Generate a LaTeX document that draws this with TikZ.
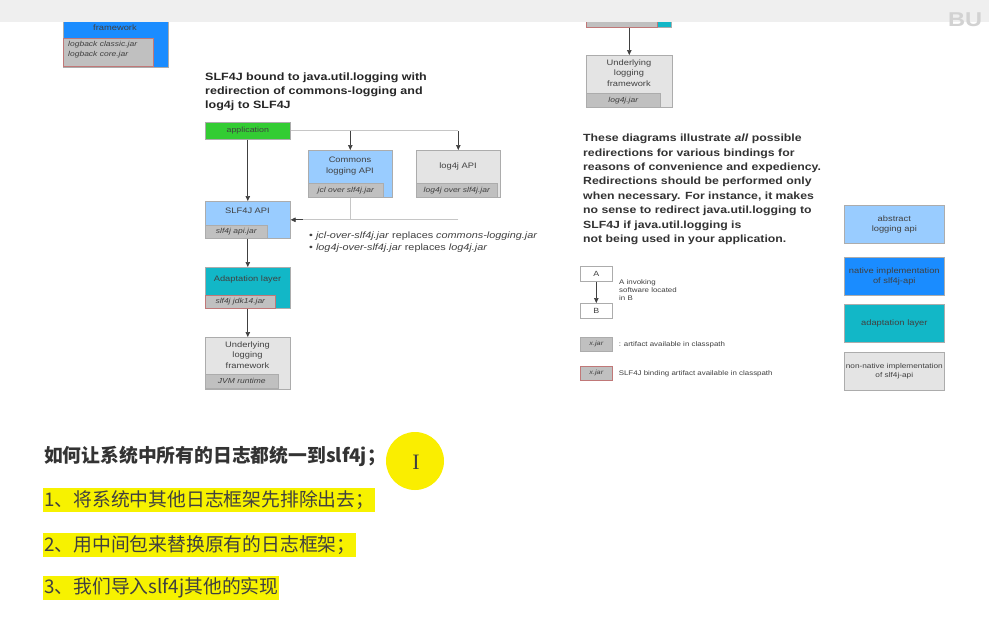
\documentclass[tikz,border=0pt]{standalone}
\usepackage{fontspec}
\setmainfont[FakeStretch=1.18]{Liberation Sans}
\newfontfamily\cjk{Noto Sans CJK SC}
\newfontfamily\serifI{Liberation Serif}
\usetikzlibrary{arrows.meta,calc}
\definecolor{appgreen}{HTML}{33CC33}
\definecolor{apiblue}{HTML}{99CCFF}
\definecolor{nativeblue}{HTML}{1A8CFF}
\definecolor{adaptteal}{HTML}{12B7C7}
\definecolor{boxgray}{HTML}{E4E4E4}
\definecolor{jargray}{HTML}{C0C0C0}
\definecolor{pinkb}{HTML}{C07878}
\definecolor{txtgray}{HTML}{404040}
\definecolor{hlyellow}{HTML}{F7F200}
\definecolor{circyellow}{HTML}{FAEE00}
\definecolor{topbar}{HTML}{EFEFEF}
\tikzset{
  box/.style={draw=gray!65, line width=0.6pt, inner sep=0pt, anchor=north west},
  jar/.style={draw=gray!65, line width=0.6pt, fill=jargray, inner sep=0pt, anchor=north west,
    font=\fontsize{7.2}{8}\selectfont\itshape, text=txtgray},
  bindjar/.style={jar, draw=pinkb},
  lbl/.style={font=\fontsize{7.9}{10.5}\selectfont, text=txtgray, align=center, inner sep=0pt},
  small/.style={font=\fontsize{6.7}{8}\selectfont, text=txtgray, align=left, inner sep=0pt, anchor=west},
  arr/.style={-{Triangle[length=5pt,width=4.5pt]}, line width=0.7pt, draw=txtgray},
  thinline/.style={draw=gray!45, line width=0.7pt},
  hl/.style={fill=hlyellow, inner xsep=1pt, inner ysep=0pt, minimum height=24pt, anchor=west,
    font=\cjk\fontsize{18.8}{20}\selectfont, text=txtgray},
}
\begin{document}
\begin{tikzpicture}[x=1pt,y=-1pt]
\useasboundingbox (0,0) rectangle (989,633);
\fill[white] (0,0) rectangle (989,633);

% ---- top-left partial box
\node[box, fill=nativeblue, minimum width=105, minimum height=52] (tlbox) at (63,15) {};
\node[lbl] at (115,28) {framework};
\node[bindjar, minimum width=90, minimum height=28] (tljar) at (63,38) {};
\node[small, font=\fontsize{7.2}{10.5}\selectfont\itshape, anchor=north west] at (68,41) {logback classic.jar\\logback core.jar};

% ---- top-right partial
\node[box, fill=adaptteal, minimum width=85, minimum height=12] (trbox) at (586,15) {};
\node[bindjar, minimum width=71, minimum height=12] (trjar) at (586,15) {};
\node[box, fill=boxgray, minimum width=86, minimum height=52] (ulog2) at (586,55) {};
\node[lbl] at (629,73) {Underlying\\logging\\framework};
\node[jar, minimum width=74, minimum height=14] (log4jjar) at (586,93) {log4j.jar};
\draw[arr] (trjar.south -| ulog2.north) -- (ulog2.north);

% ---- top bar
\fill[topbar] (0,0) rectangle (989,22);
\node[font=\bfseries\fontsize{20}{20}\selectfont, text=gray!35, anchor=west, inner sep=0pt] at (948,20) {BU};

% ---- title
\node[anchor=north west, align=left, inner sep=0pt, font=\bfseries\fontsize{10.6}{14}\selectfont, text=black!85] at (205,73)
  {SLF4J bound to java.util.logging with\\redirection of commons-logging and\\log4j to SLF4J};

% ---- left diagram
\node[box, fill=appgreen, minimum width=85, minimum height=17, font=\fontsize{7.5}{9}\selectfont, text=txtgray] (app) at (205,122) {application};

\node[box, fill=apiblue, minimum width=84, minimum height=47] (jcl) at (308,150) {};
\node[lbl] at (350,166) {Commons\\logging API};
\node[jar, minimum width=75, minimum height=14] (jcljar) at (308,183) {jcl over slf4j.jar};

\node[box, fill=boxgray, minimum width=84, minimum height=47] (log4j) at (416,150) {};
\node[lbl] at (458,166) {log4j API};
\node[jar, minimum width=81, minimum height=14] (log4jover) at (416,183) {log4j over slf4j.jar};

\node[box, fill=apiblue, minimum width=85, minimum height=37] (slf) at (205,201) {};
\node[lbl] at (247.5,211) {SLF4J API};
\node[jar, minimum width=62, minimum height=13] (slfjar) at (205,225) {slf4j api.jar};

\node[box, fill=adaptteal, minimum width=85, minimum height=41] (adapt) at (205,267) {};
\node[lbl] at (247.5,279) {Adaptation layer};
\node[bindjar, minimum width=70, minimum height=13] (adaptjar) at (205,295) {slf4j jdk14.jar};

\node[box, fill=boxgray, minimum width=85, minimum height=52] (ulog) at (205,337) {};
\node[lbl] at (247.5,355) {Underlying\\logging\\framework};
\node[jar, minimum width=73, minimum height=14] (jvm) at (205,374) {JVM runtime};

\coordinate (hr) at (app.east -| log4j.north);
\coordinate (lr) at (slf.east -| log4j.north);
\draw[thinline] (app.east) -- (hr);
\draw[arr] (jcl.north |- hr) -- (jcl.north);
\draw[arr] (hr) -- (log4j.north);
\draw[thinline] (jcl.south) -- (jcl.south |- lr);
\draw[thinline] (lr) -- ($(slf.east)+(8,0)$);
\draw[arr] ($(slf.east)+(12,0)$) -- (slf.east);

\draw[arr] (app.south) -- (slf.north);
\draw[arr] (slf.south) -- (adapt.north);
\draw[arr] (adapt.south) -- (ulog.north);

\node[anchor=north west, align=left, inner sep=0pt, font=\fontsize{9.2}{12}\selectfont, text=txtgray] at (309,232)
  {\textbullet\ \textit{jcl-over-slf4j.jar} replaces \textit{commons-logging.jar}\\
   \textbullet\ \textit{log4j-over-slf4j.jar} replaces \textit{log4j.jar}};

% ---- paragraph
\node[anchor=north west, align=left, inner sep=0pt, font=\bfseries\fontsize{10.4}{14.4}\selectfont, text=black!80] at (583,134)
  {These diagrams illustrate \textit{all} possible\\
   redirections for various bindings for\\
   reasons of convenience and expediency.\\
   Redirections should be performed only\\
   when necessary. For instance, it makes\\
   no sense to redirect java.util.logging to\\
   SLF4J if java.util.logging is\\
   not being used in your application.};

% ---- legend left
\node[box, fill=white, minimum width=32, minimum height=15, font=\fontsize{7.5}{9}\selectfont, text=txtgray] (la) at (580,266) {A};
\node[box, fill=white, minimum width=32, minimum height=15, font=\fontsize{7.5}{9}\selectfont, text=txtgray] (lb) at (580,303) {B};
\draw[arr] (la.south) -- (lb.north);
\node[small, anchor=north west] at (619,279) {A invoking\\software located\\in B};
\node[jar, minimum width=32, minimum height=14, font=\fontsize{6.2}{7}\selectfont\itshape] (lj1) at (580,337) {x.jar};
\node[small] at ($(lj1.east)+(6,0)$) {: artifact available in classpath};
\node[bindjar, minimum width=32, minimum height=14, font=\fontsize{6.2}{7}\selectfont\itshape] (lj2) at (580,366) {x.jar};
\node[small] at ($(lj2.east)+(6,0)$) {SLF4J binding artifact available in classpath};

% ---- legend right
\node[box, fill=apiblue, minimum width=100, minimum height=38, lbl] (k1) at (844,205) {abstract\\logging api};
\node[box, fill=nativeblue, minimum width=100, minimum height=38, lbl] (k2) at (844,257) {native implementation\\of slf4j-api};
\node[box, fill=adaptteal, minimum width=100, minimum height=38, lbl] (k3) at (844,304) {adaptation layer};
\node[box, fill=boxgray, minimum width=100, minimum height=38, lbl, font=\fontsize{7}{9}\selectfont] (k4) at (844,352) {non-native implementation\\of slf4j-api};

% ---- bottom text
\node[anchor=west, inner sep=0pt, font=\cjk\bfseries\fontsize{18.8}{20}\selectfont, text=black!80] (h) at (44,456) {如何让系统中所有的日志都统一到slf4j；};
\fill[circyellow] (415,461) circle (29);
\node[font=\serifI\fontsize{22}{22}\selectfont, text=txtgray] (cur) at (416,462) {I};
\node[hl] (s1) at (43,500) {1、将系统中其他日志框架先排除出去；};
\node[hl] (s2) at (43,545) {2、用中间包来替换原有的日志框架；};
\node[hl] (s3) at (43,588) {3、我们导入slf4j其他的实现};
\end{tikzpicture}
\end{document}
